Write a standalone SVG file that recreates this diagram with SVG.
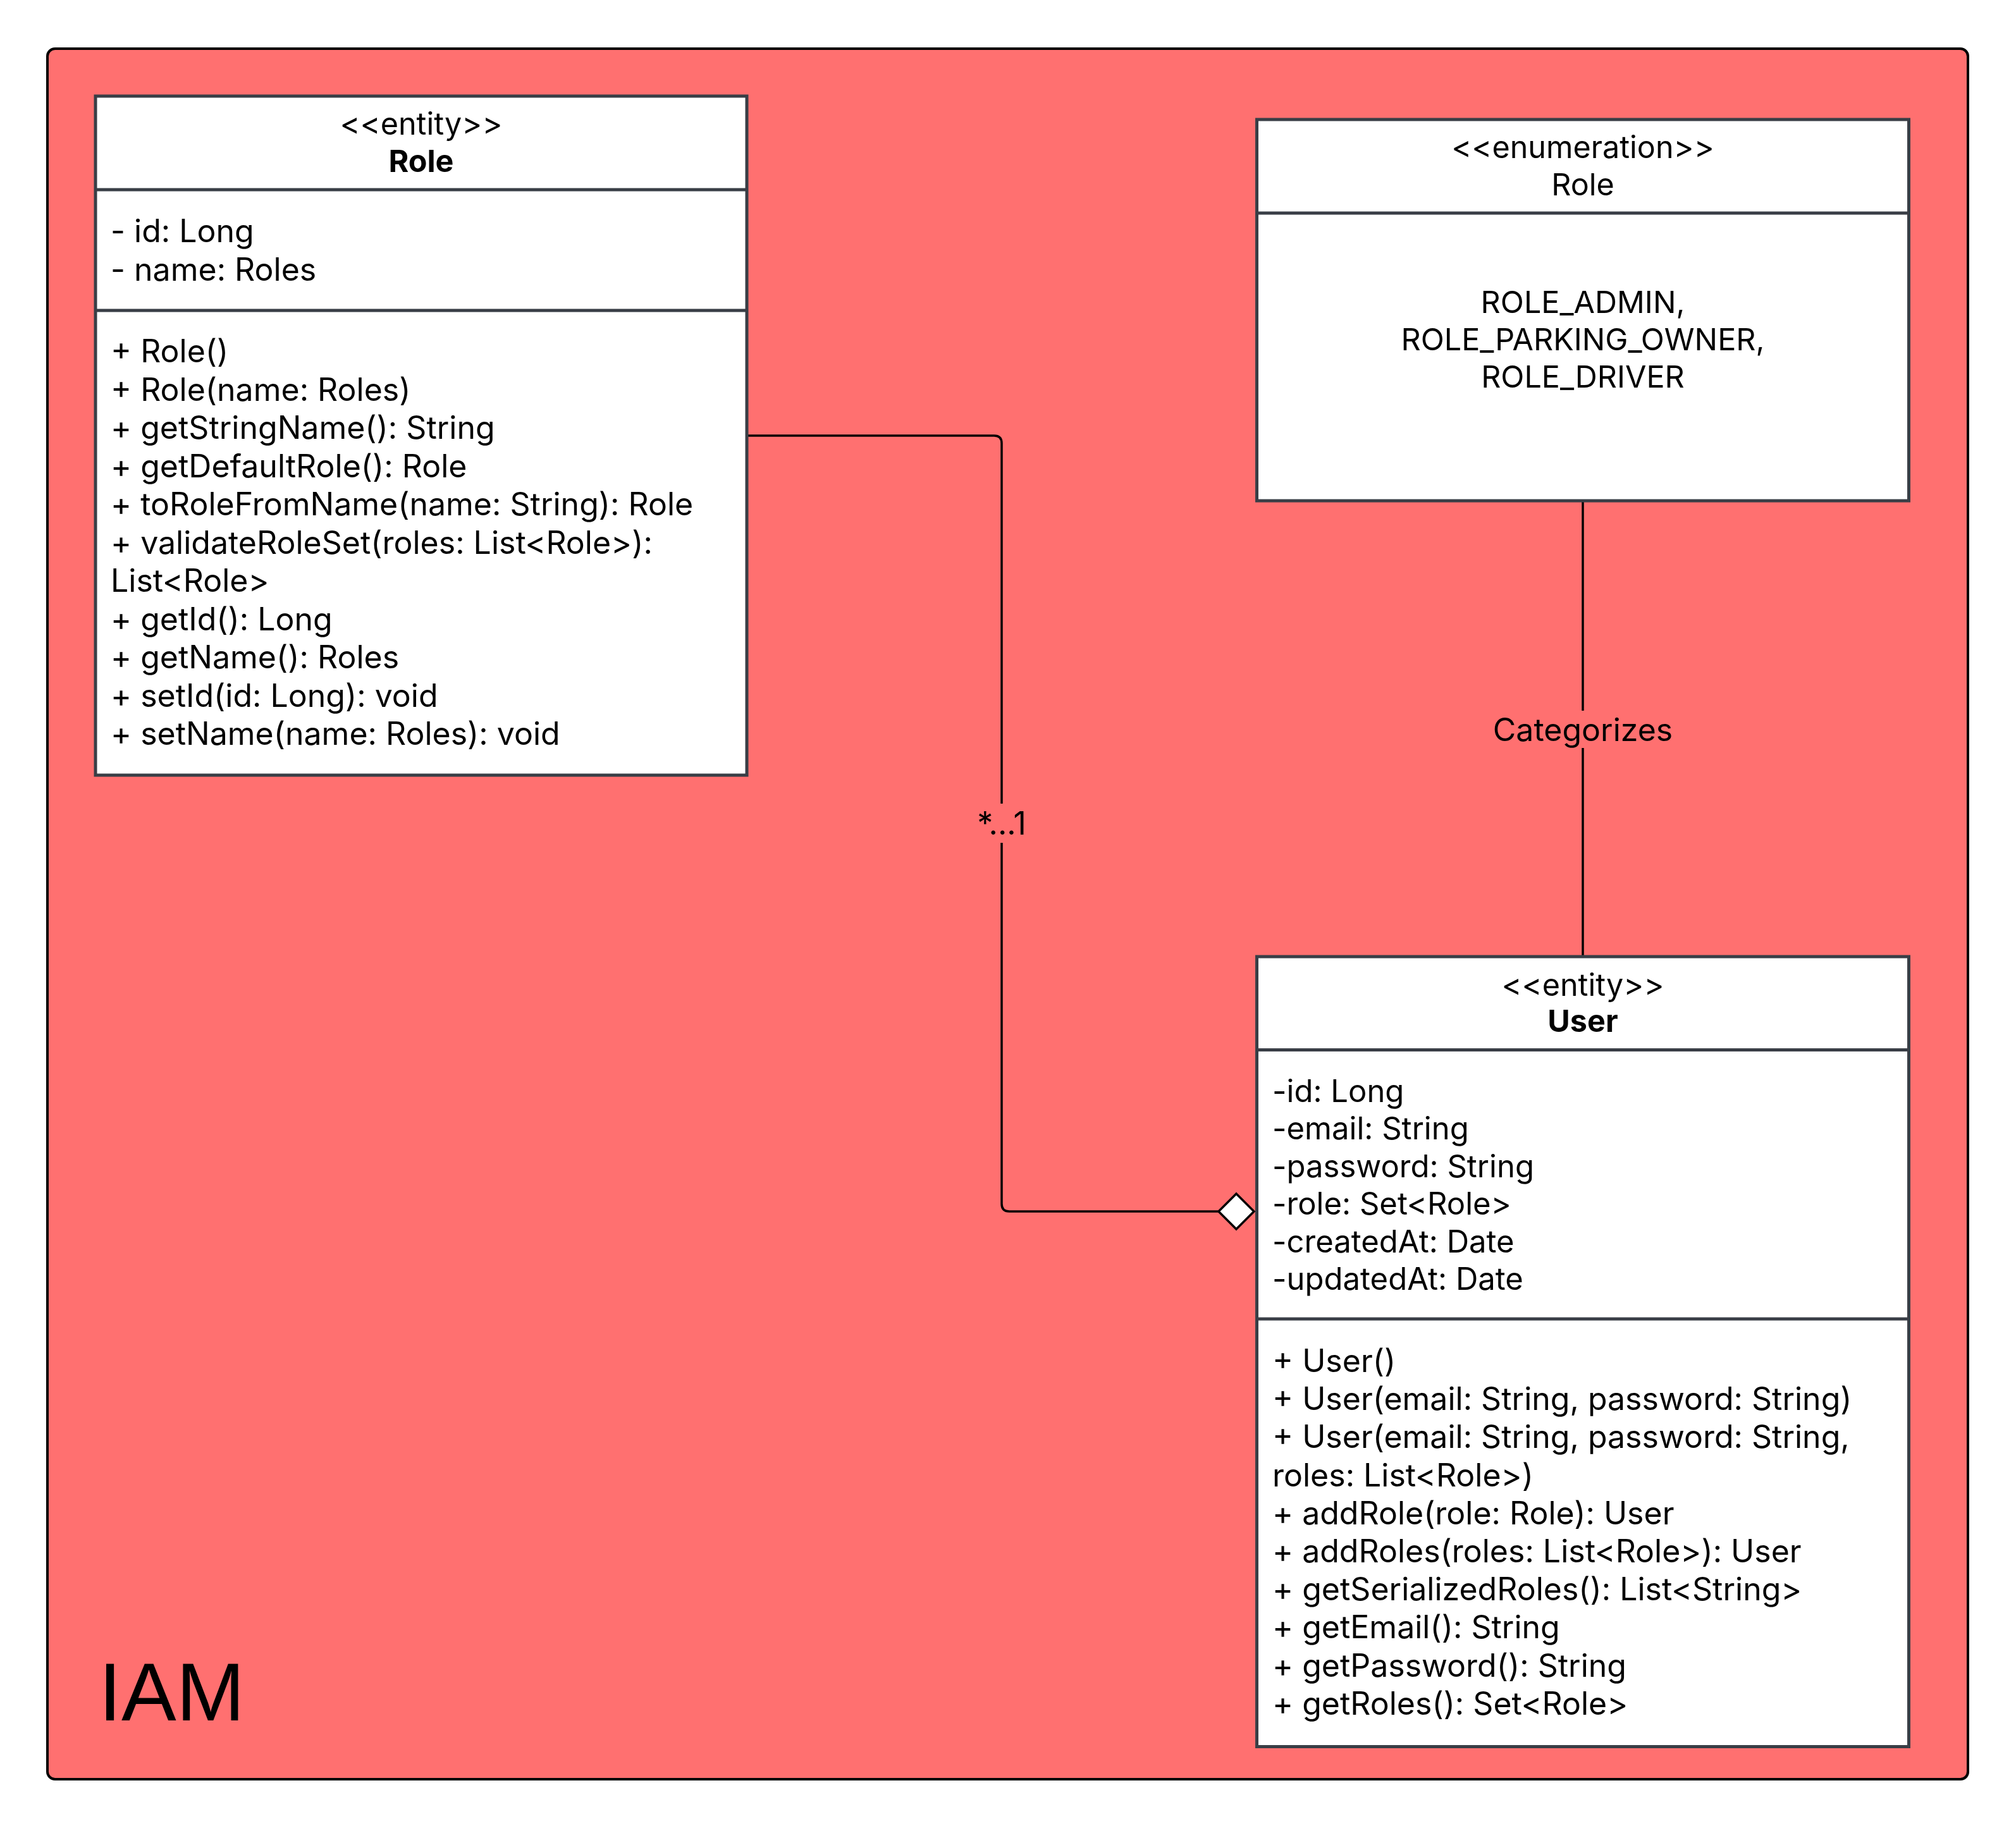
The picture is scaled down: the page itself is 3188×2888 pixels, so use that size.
<svg xmlns="http://www.w3.org/2000/svg" width="3188" height="2888" viewBox="0 0 3188 2888">
<style>
.box{fill:#FFFFFF;stroke:#393E46;stroke-width:5}
.div{stroke:#393E46;stroke-width:5}
.t{font-family:Inter,"Noto Sans",sans-serif;font-size:50px;fill:#000}
.h{font-size:48.5px}
.a{font-size:49px}
.c{text-anchor:middle}
.b{font-weight:700}
.conn{fill:none;stroke:#000;stroke-width:3.5}
.lbl{font-family:Inter,"Noto Sans",sans-serif;font-size:50px;fill:#000;text-anchor:middle}
.lblbg{fill:#FF7070}
</style>
<rect width="3188" height="2888" fill="#FFFFFF"/>
<g id="frame">
<rect x="77" y="79" width="3037" height="2737" rx="12" fill="#9a9a9a" opacity="0.5"/>
<rect x="75" y="77" width="3037" height="2737" rx="12" fill="#FF7070" stroke="#000" stroke-width="4"/>
<text x="156" y="2721" font-family="'Liberation Sans',Arial,sans-serif" font-size="130" fill="#000">IAM</text>
</g>
<g id="connectors">
<path class="conn" d="M1181,689 H1572 Q1584,689 1584,701 V1904 Q1584,1916 1596,1916 H1927"/>
<polygon points="1927,1916 1955,1888 1983,1916 1955,1944" fill="#FFFFFF" stroke="#000" stroke-width="3.5"/>
<rect class="lblbg" x="1540" y="1271" width="88" height="62"/>
<text class="lbl" x="1584" y="1320" font-size="48">*...1</text>
<path class="conn" d="M2503,792 V1513"/>
<rect class="lblbg" x="2350" y="1124" width="306" height="59"/>
<text class="lbl" x="2503" y="1172">Categorizes</text>
</g>
<g id="role-entity">
<rect class="box" x="151" y="152" width="1030" height="1074"/>
<line class="div" x1="151" y1="300" x2="1181" y2="300"/>
<line class="div" x1="151" y1="491" x2="1181" y2="491"/>
<text class="t h c" x="666" y="213">&lt;&lt;entity&gt;&gt;</text>
<text class="t h c b" x="666" y="272">Role</text>
<text class="t" x="175" y="383">- id: Long</text>
<text class="t" x="175" y="444">- name: Roles</text>
<text class="t" x="175" y="573">+ Role()</text>
<text class="t" x="175" y="633.5">+ Role(name: Roles)</text>
<text class="t" x="175" y="694">+ getStringName(): String</text>
<text class="t" x="175" y="754.5">+ getDefaultRole(): Role</text>
<text class="t" x="175" y="815">+ toRoleFromName(name: String): Role</text>
<text class="t" x="175" y="875.5">+ validateRoleSet(roles: List&lt;Role&gt;):</text>
<text class="t" x="175" y="936">List&lt;Role&gt;</text>
<text class="t" x="175" y="996.5">+ getId(): Long</text>
<text class="t" x="175" y="1057">+ getName(): Roles</text>
<text class="t" x="175" y="1117.5">+ setId(id: Long): void</text>
<text class="t" x="175" y="1178">+ setName(name: Roles): void</text>
</g>
<g id="role-enumeration">
<rect class="box" x="1987.5" y="189" width="1031" height="603"/>
<line class="div" x1="1987.5" y1="337" x2="3018.5" y2="337"/>
<text class="t h c" x="2503" y="250">&lt;&lt;enumeration&gt;&gt;</text>
<text class="t h c" x="2503" y="309">Role</text>
<text class="t h c" x="2503" y="494.5">ROLE_ADMIN,</text>
<text class="t h c" x="2503" y="554">ROLE_PARKING_OWNER,</text>
<text class="t h c" x="2503" y="613">ROLE_DRIVER</text>
</g>
<g id="user-entity">
<rect class="box" x="1987.5" y="1513" width="1031" height="1249.5"/>
<line class="div" x1="1987.5" y1="1660.5" x2="3018.5" y2="1660.5"/>
<line class="div" x1="1987.5" y1="2086" x2="3018.5" y2="2086"/>
<text class="t h c" x="2503" y="1575">&lt;&lt;entity&gt;&gt;</text>
<text class="t h c b" x="2503" y="1632">User</text>
<text class="t a" x="2012" y="1743">-id: Long</text>
<text class="t a" x="2012" y="1802">-email: String</text>
<text class="t a" x="2012" y="1862">-password: String</text>
<text class="t a" x="2012" y="1921">-role: Set&lt;Role&gt;</text>
<text class="t a" x="2012" y="1981">-createdAt: Date</text>
<text class="t a" x="2012" y="2040">-updatedAt: Date</text>
<text class="t" x="2012" y="2170">+ User()</text>
<text class="t" x="2012" y="2230">+ User(email: String, password: String)</text>
<text class="t" x="2012" y="2290">+ User(email: String, password: String,</text>
<text class="t" x="2012" y="2351">roles: List&lt;Role&gt;)</text>
<text class="t" x="2012" y="2411">+ addRole(role: Role): User</text>
<text class="t" x="2012" y="2471">+ addRoles(roles: List&lt;Role&gt;): User</text>
<text class="t" x="2012" y="2531">+ getSerializedRoles(): List&lt;String&gt;</text>
<text class="t" x="2012" y="2591">+ getEmail(): String</text>
<text class="t" x="2012" y="2652">+ getPassword(): String</text>
<text class="t" x="2012" y="2712">+ getRoles(): Set&lt;Role&gt;</text>
</g>
</svg>
